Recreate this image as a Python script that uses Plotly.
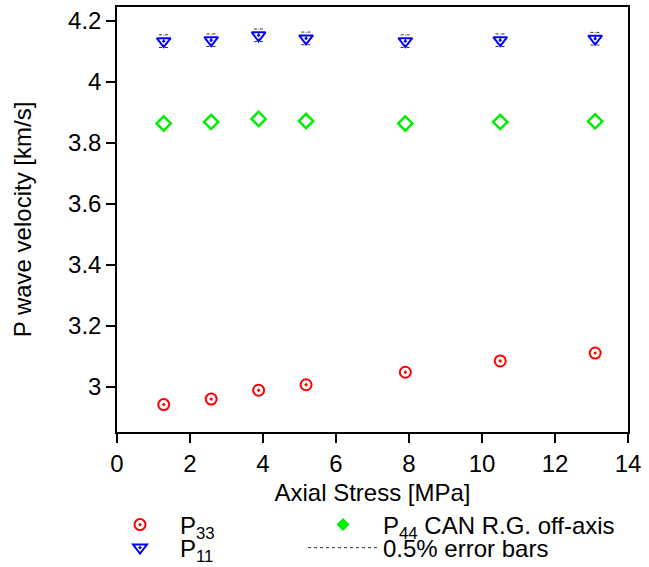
import plotly.graph_objects as go

stress = [1.28, 2.58, 3.88, 5.18, 7.9, 10.5, 13.1]
p33 = [2.942, 2.960, 2.989, 3.007, 3.048, 3.085, 3.111]
p44 = [3.864, 3.869, 3.879, 3.872, 3.864, 3.869, 3.871]
p11 = [4.134, 4.137, 4.153, 4.143, 4.134, 4.137, 4.142]
err_frac = 0.005

FONT = "Liberation Sans, Arial, sans-serif"
FS = 24
cap = 0.13

# build dotted error bars for P11
ex, ey = [], []
for x, y in zip(stress, p11):
    e = y * err_frac
    ex += [x, x, None, x - cap, x + cap, None, x - cap, x + cap, None]
    ey += [y - e, y + e, None, y + e, y + e, None, y - e, y - e, None]

fig = go.Figure()
fig.add_trace(go.Scatter(x=ex, y=ey, mode="lines", showlegend=False,
                         line=dict(color="#333333", width=1, dash="dot"),
                         hoverinfo="skip"))
fig.add_trace(go.Scatter(x=stress, y=p33, mode="markers", name="P<sub>33</sub>",
                         legend="legend",
                         marker=dict(symbol="circle-open-dot", size=11, color="#ff0000",
                                     line=dict(width=2, color="#ff0000"))))
fig.add_trace(go.Scatter(x=stress, y=p44, mode="markers", showlegend=False,
                         marker=dict(symbol="diamond-open", size=11, color="#00ee00",
                                     line=dict(width=2.5, color="#00ee00"))))
fig.add_trace(go.Scatter(x=[None], y=[None], mode="markers",
                         name="P<sub>44</sub> CAN R.G. off-axis", legend="legend3",
                         marker=dict(symbol="diamond", size=10, color="#00ee00")))
fig.add_trace(go.Scatter(x=stress, y=p11, mode="markers", name="P<sub>11</sub>",
                         legend="legend2",
                         marker=dict(symbol="triangle-down-open-dot", size=12, color="#0000ff",
                                     line=dict(width=2, color="#0000ff"))))
fig.add_trace(go.Scatter(x=[None], y=[None], mode="lines", name="0.5% error bars",
                         legend="legend4",
                         line=dict(color="#333333", width=1, dash="dot")))

axis_common = dict(showline=True, linecolor="black", linewidth=1.5, mirror=True,
                   ticks="outside", ticklen=9, tickwidth=1.5, tickcolor="black",
                   showgrid=False, zeroline=False,
                   tickfont=dict(family=FONT, size=FS, color="black"))

# plot area: px y 7..432 (height 425)
def py(px):
    return (432 - px) / 425.0

def px_x(px):
    return (px - 117) / 511.0

leg_common = dict(orientation="v", xanchor="left", yanchor="middle",
                  font=dict(family=FONT, size=FS, color="black"),
                  bgcolor="rgba(0,0,0,0)", itemwidth=70, borderwidth=0)

fig.update_layout(
    width=649, height=567,
    margin=dict(l=117, r=21, t=7, b=135, autoexpand=False),
    paper_bgcolor="white", plot_bgcolor="white",
    font=dict(family=FONT, color="black"),
    xaxis=dict(range=[0, 14], dtick=2,
               title=dict(text="Axial Stress [MPa]", font=dict(family=FONT, size=FS), standoff=9),
               **axis_common),
    yaxis=dict(range=[2.852, 4.246], tickvals=[3, 3.2, 3.4, 3.6, 3.8, 4, 4.2],
               ticktext=["3", "3.2", "3.4", "3.6", "3.8", "4", "4.2"],
               title=dict(text="P wave velocity [km/s]", font=dict(family=FONT, size=FS), standoff=30),
               **axis_common),
    legend=dict(x=px_x(100), y=py(525), **leg_common),
    legend2=dict(x=px_x(100), y=py(548), **leg_common),
    legend3=dict(x=px_x(303), y=py(525), **leg_common),
    legend4=dict(x=px_x(303), y=py(548), **leg_common),
)

fig.write_html("out.html")
